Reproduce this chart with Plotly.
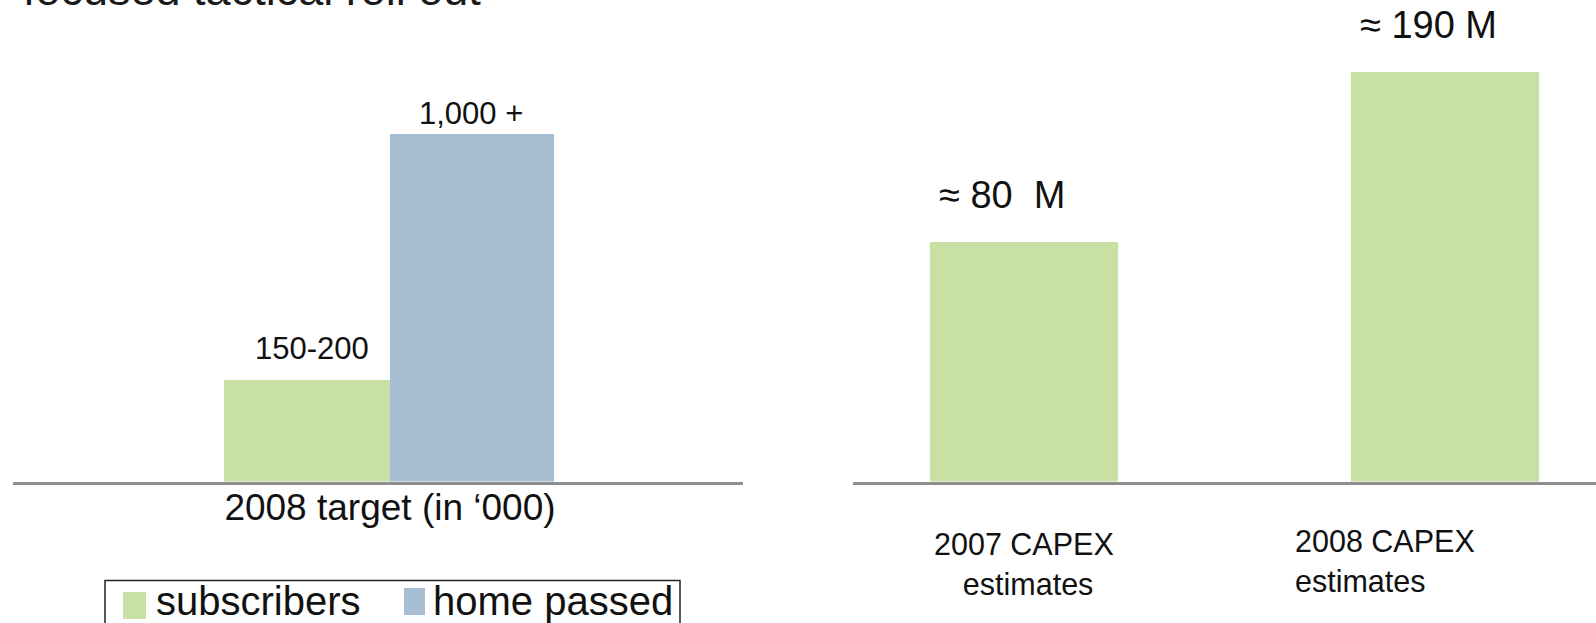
import numpy as np
import plotly.graph_objects as go

# ---- data -------------------------------------------------------------
# Left panel: 2008 targets (thousands)
target_category = ["2008 target (in \u2018000)"]
series_names = ["subscribers", "home passed"]
subscribers = [175]        # centre of the stated 150-200 range
home_passed = [1000]
target_labels = ["150-200", "1,000 +"]

# Right panel: CAPEX estimates (millions)
capex_categories = ["2007 CAPEX", "2008 CAPEX"]
capex_category_labels = ["2007 CAPEX<br>\u00a0estimates", "2008 CAPEX<br>estimates"]
capex_values = [80, 190]
capex_labels = ["\u2248 80\u00a0\u00a0M", "\u2248 190 M"]

title_text = "focused tactical roll out"

# ---- styling ----------------------------------------------------------
GREEN = "#C9E0A4"
BLUE = "#A8BED3"
AXIS_GREY = "#8E8E8E"
TEXT = "#111111"
FONT = "Liberation Sans, Arial, Helvetica, sans-serif"
W, H = 1596, 623


def px_x(p):
    return p / W


def px_y(p):
    return 1 - p / H


fig = go.Figure()

# left grouped bars (offset/width keep the pair side by side around the tick)
fig.add_trace(go.Bar(
    x=target_category, y=subscribers, name=series_names[0],
    marker=dict(color=GREEN, line=dict(width=0)),
    offset=-0.2274, width=0.2274, xaxis="x", yaxis="y", showlegend=False,
))
fig.add_trace(go.Bar(
    x=target_category, y=home_passed, name=series_names[1],
    marker=dict(color=BLUE, line=dict(width=0)),
    offset=0, width=0.2247, xaxis="x", yaxis="y", showlegend=False,
))

# right bars
fig.add_trace(go.Bar(
    x=capex_categories, y=capex_values, name="CAPEX",
    marker=dict(color=GREEN, line=dict(width=0)),
    width=0.447, xaxis="x2", yaxis="y2", showlegend=False,
))

plot_bottom = 481.5
y_dom = [px_y(plot_bottom), 1]

axis_common = dict(
    showgrid=False, zeroline=False, ticks="", showline=True,
    linecolor=AXIS_GREY, linewidth=3, fixedrange=True,
)

fig.update_layout(
    width=W, height=H,
    margin=dict(l=0, r=0, t=0, b=0, autoexpand=False),
    paper_bgcolor="white", plot_bgcolor="white",
    font=dict(family=FONT, color=TEXT),
    barmode="group",
    xaxis=dict(
        domain=[px_x(13), px_x(743)], range=[-0.5164, 0.4836],
        type="category", showticklabels=True,
        tickfont=dict(size=37, color=TEXT, family=FONT),
        ticklabelstandoff=-9, anchor="y", **axis_common,
    ),
    yaxis=dict(
        domain=y_dom, type="log", range=[1.93071, 3.41234],
        visible=False, anchor="x",
    ),
    xaxis2=dict(
        domain=[px_x(853), 1], range=[-0.4062, 1.3587],
        type="category", showticklabels=False, anchor="y2", **axis_common,
    ),
    yaxis2=dict(
        domain=y_dom, type="log", range=[1.37381, 2.43790],
        visible=False, anchor="x2",
    ),
)

annotations = []

# value labels above the left bars
left_vals = [subscribers[0], home_passed[0]]
left_xshift = [-78, 81]
left_yshift = [32, 21]
for v, lab, xs, ys in zip(left_vals, target_labels, left_xshift, left_yshift):
    annotations.append(dict(
        x=target_category[0], y=np.log10(v), xref="x", yref="y",
        text=lab, showarrow=False, xanchor="center", yanchor="middle",
        xshift=xs, yshift=ys, font=dict(size=31, color=TEXT, family=FONT),
    ))

# value labels above the right bars
right_xshift = [-22, -16]
for cat, v, lab, xs in zip(capex_categories, capex_values, capex_labels, right_xshift):
    annotations.append(dict(
        x=cat, y=np.log10(v), xref="x2", yref="y2",
        text=lab, showarrow=False, xanchor="center", yanchor="middle",
        xshift=xs, yshift=47, font=dict(size=38, color=TEXT, family=FONT),
    ))

# category captions under the right bars
annotations.append(dict(
    x=capex_categories[0], y=px_y(564), xref="x2", yref="paper",
    text=capex_category_labels[0], showarrow=False,
    xanchor="center", yanchor="middle", align="center",
    font=dict(size=30.5, color=TEXT, family=FONT),
))
annotations.append(dict(
    x=capex_categories[1], y=px_y(560.5), xref="x2", yref="paper",
    text=capex_category_labels[1], showarrow=False,
    xanchor="left", yanchor="middle", align="left", xshift=-152,
    font=dict(size=30.5, color=TEXT, family=FONT),
))

# heading (runs off the top edge)
annotations.append(dict(
    x=px_x(21), y=px_y(17.5), xref="paper", yref="paper",
    text=title_text, showarrow=False, xanchor="left", yanchor="bottom",
    font=dict(size=45, color="#1A1A1A", family=FONT),
))

# legend text
legend_text_y = px_y(601)
for name, xpx in zip(series_names, [154, 431]):
    annotations.append(dict(
        x=px_x(xpx), y=legend_text_y, xref="paper", yref="paper",
        text=name, showarrow=False, xanchor="left", yanchor="middle",
        font=dict(size=40, color=TEXT, family=FONT),
    ))

fig.update_layout(annotations=annotations)

# legend frame and swatches
shapes = [
    dict(type="rect", xref="paper", yref="paper",
         x0=px_x(105), x1=px_x(680), y0=px_y(640), y1=px_y(580.5),
         line=dict(color="#222222", width=1.5), fillcolor="rgba(0,0,0,0)"),
    dict(type="rect", xref="paper", yref="paper",
         x0=px_x(123), x1=px_x(146), y0=px_y(619), y1=px_y(592),
         line=dict(width=0), fillcolor=GREEN),
    dict(type="rect", xref="paper", yref="paper",
         x0=px_x(404), x1=px_x(425), y0=px_y(615), y1=px_y(588),
         line=dict(width=0), fillcolor=BLUE),
]
fig.update_layout(shapes=shapes)

fig.write_html("out.html")
